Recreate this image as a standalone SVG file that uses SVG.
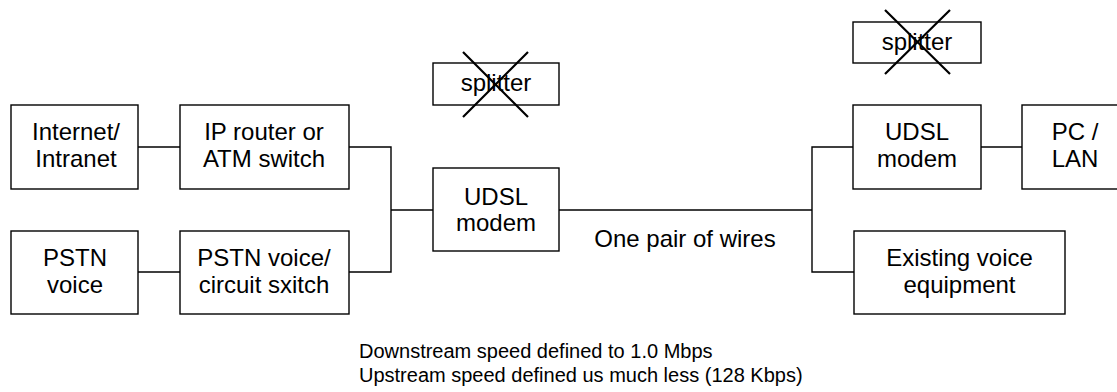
<svg xmlns="http://www.w3.org/2000/svg" width="1117" height="392" viewBox="0 0 1117 392">
<style>
.box{fill:#fff;stroke:#000;stroke-width:1.4}
.t{font-family:"Liberation Sans",Arial,sans-serif;font-size:24px;fill:#000;text-anchor:middle}
.s{font-family:"Liberation Sans",Arial,sans-serif;font-size:20px;fill:#000}
.c{fill:none;stroke:#000;stroke-width:1.4}
.x{stroke:#000;stroke-width:2.2}
</style>
<rect width="1117" height="392" fill="#fff"/>
<g id="connectors">
<path class="c" d="M138,147 H180"/>
<path class="c" d="M138,272 H180"/>
<path class="c" d="M349,147 H391 V272 H349"/>
<path class="c" d="M391,210 H433"/>
<path class="c" d="M559,210 H812"/>
<path class="c" d="M853,147 H812 V272 H854"/>
<path class="c" d="M981,147 H1022"/>
</g>
<g id="internet"><rect class="box" x="11" y="105" width="127" height="84"/><text class="t" x="76" y="140">Internet/</text><text class="t" x="76" y="167">Intranet</text></g>
<g id="iprouter"><rect class="box" x="180" y="105" width="169" height="84"/><text class="t" x="264" y="140">IP router or</text><text class="t" x="264" y="167">ATM switch</text></g>
<g id="pstnvoice"><rect class="box" x="11" y="231" width="127" height="83"/><text class="t" x="75" y="265.5">PSTN</text><text class="t" x="75" y="292.5">voice</text></g>
<g id="pstnswitch"><rect class="box" x="180" y="231" width="169" height="83"/><text class="t" x="264" y="265.5">PSTN voice/</text><text class="t" x="264" y="292.5">circuit sxitch</text></g>
<g id="splitter1"><rect class="box" x="433" y="63" width="126" height="42"/><text class="t" x="496" y="91">splitter</text><path class="x" d="M463,52 L528,117 M528,52 L463,117"/></g>
<g id="udsl1"><rect class="box" x="433" y="168" width="126" height="83"/><text class="t" x="496" y="204.5">UDSL</text><text class="t" x="496" y="231">modem</text></g>
<g id="wires"><text class="t" x="685" y="246.5">One pair of wires</text></g>
<g id="splitter2"><rect class="box" x="853" y="22" width="128" height="41"/><text class="t" x="917" y="50">splitter</text><path class="x" d="M885,10 L950,74 M950,10 L885,74"/></g>
<g id="udsl2"><rect class="box" x="853" y="105" width="128" height="84"/><text class="t" x="917" y="140">UDSL</text><text class="t" x="917" y="167">modem</text></g>
<g id="pclan"><rect class="box" x="1022" y="105" width="127" height="84"/><text class="t" x="1075" y="140">PC /</text><text class="t" x="1075" y="167">LAN</text></g>
<g id="existing"><rect class="box" x="854" y="231" width="211" height="83"/><text class="t" x="959.5" y="265.5">Existing voice</text><text class="t" x="959.5" y="292.5">equipment</text></g>
<g id="notes"><text class="s" x="359" y="358">Downstream speed defined to 1.0 Mbps</text><text class="s" x="359" y="382">Upstream speed defined us much less (128 Kbps)</text></g>
</svg>
